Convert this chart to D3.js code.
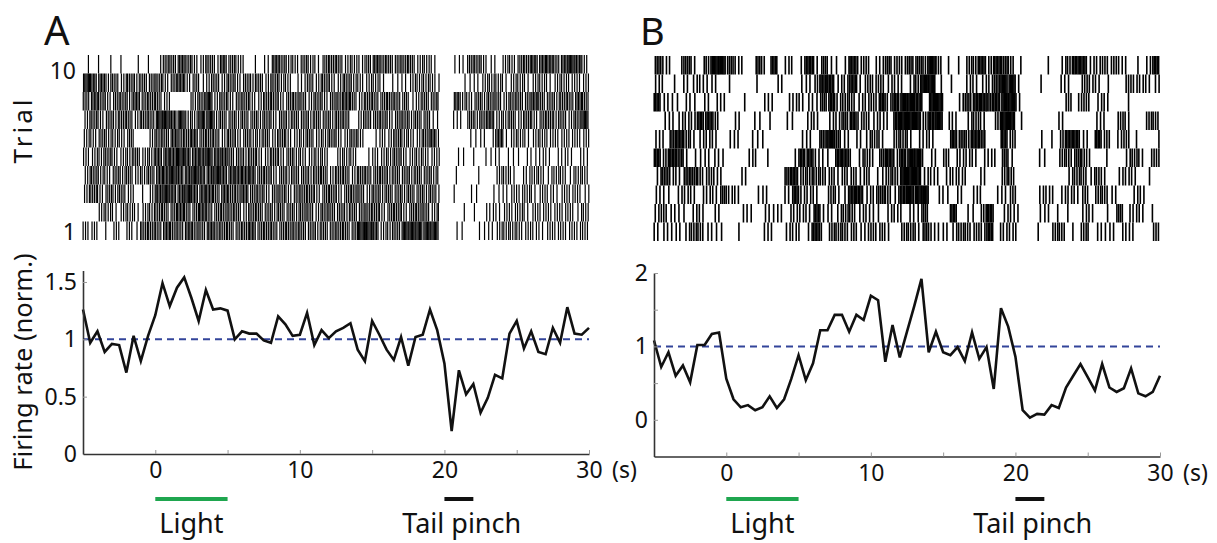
<!DOCTYPE html>
<meta charset="utf-8">
<style>
  body { margin: 0; background: #fff; }
  svg text { font-family: "Noto Sans", sans-serif; fill: #111; }
</style>
<body>
<svg></svg>
<script src="https://cdn.jsdelivr.net/npm/d3@7"></script>
<script>

// ---- data -----------------------------------------------------------

// time axis (s) and sampling of the rate curves
var timeMin = -5, timeMax = 30;
var rateTimes = d3.range(-5, 30.25, 0.5);          // 71 samples, 0.5 s apart

// normalised firing rate, panel A and panel B
var rateA = [1.26,0.97,1.07,0.89,0.96,0.95,0.71,1.03,0.81,1.03,
             1.21,1.49,1.29,1.45,1.54,1.36,1.16,1.43,1.26,1.27,
             1.25,1.00,1.07,1.05,1.05,0.99,0.97,1.20,1.13,1.03,
             1.04,1.23,0.95,1.08,1.01,1.07,1.10,1.14,0.91,0.81,
             1.16,1.04,0.91,0.82,1.02,0.77,1.02,1.04,1.26,1.08,
             0.79,0.20,0.73,0.52,0.61,0.36,0.49,0.69,0.66,1.05,
             1.16,0.92,1.07,0.89,0.87,1.10,0.97,1.28,1.05,1.04,1.10];
var rateB = [1.08,0.72,0.92,0.60,0.74,0.51,1.02,1.02,1.17,1.19,
             0.56,0.28,0.17,0.20,0.13,0.17,0.32,0.16,0.28,0.56,
             0.88,0.54,0.77,1.22,1.22,1.43,1.43,1.20,1.43,1.36,
             1.69,1.63,0.79,1.29,0.85,1.20,1.55,1.92,0.92,1.20,
             0.92,0.88,0.99,0.80,1.19,0.83,0.99,0.42,1.52,1.27,
             0.86,0.13,0.03,0.08,0.07,0.20,0.16,0.44,0.60,0.76,
             0.58,0.40,0.76,0.44,0.38,0.43,0.70,0.36,0.32,0.38,0.60];

// raster: spike counts per 0.5 s bin (70 bins, -5..30 s), trial 1 first
var rasterA = [
  "3301303244"+"4544544544"+"4445444444"+"4434444466"+"5334666663"+"1110112333"+"3322323323",
  "0033233233"+"4445445444"+"4434443443"+"4434443444"+"4344344434"+"0110112232"+"3232332323",
  "3434343013"+"5655655545"+"4454434434"+"4434434443"+"4344344344"+"0101101123"+"2323223232",
  "3433434334"+"5565565565"+"5555443434"+"4344344344"+"4434434433"+"0100100332"+"1233233233",
  "3334333433"+"5556555655"+"4434334343"+"3333033301"+"3334333332"+"0110111211"+"1212212212",
  "3343334003"+"4454454443"+"4343343433"+"3433433430"+"1334333455"+"0001121523"+"3233233233",
  "3434344344"+"6656336634"+"4344343434"+"4344344034"+"4434434413"+"1214345334"+"3434434346",
  "4543443544"+"4300134634"+"3443344344"+"4343445434"+"4444413444"+"1533434434"+"4454434454",
  "6553434344"+"4345341343"+"4343434331"+"2434334333"+"3211233333"+"1011233323"+"3233233233",
  "1011010101"+"1445433425"+"4311025433"+"4324443324"+"5444443320"+"0124432033"+"4455545653"
];
var rasterB = [
  "2212233211"+"0100021022"+"1251333312"+"3310332421"+"2233325122"+"1001033103"+"1212121003",
  "2321122020"+"0021021212"+"2251223322"+"1122121400"+"0501135022"+"1001210102"+"2010412210",
  "2112221224"+"2200120025"+"2220322552"+"2432566602"+"1020210123"+"0002212223"+"0332002200",
  "2422443321"+"0020000045"+"3333313313"+"1133666221"+"2221020033"+"0000000233"+"2310222010",
  "5354211221"+"0002110001"+"5521155123"+"1452566120"+"3122212141"+"0001103343"+"1010023213",
  "2145322220"+"1201110000"+"1214642022"+"3203321220"+"0543540053"+"0001013552"+"0530231001",
  "0122225530"+"0201101011"+"0220224523"+"2215666356"+"1202320366"+"1000002000"+"0210320033",
  "5211210212"+"0010021012"+"2214523322"+"3525665166"+"0024554566"+"2000000313"+"1220010000",
  "2110222120"+"1000100200"+"1235522523"+"2322123661"+"0102222466"+"1001002103"+"2210032222",
  "4211421366"+"4210415021"+"2524112523"+"1243244363"+"1013353543"+"1000102355"+"2233211025"
];
var binWidth = 0.5;

// stretch of each raster with no spikes drawn (stimulus artefact)
var gapA = [19.65, 20.6];
var gapB = [20.45, 21.5];

// axis ticks and labels
var xTicks = [-5, 0, 5, 10, 15, 20, 25, 30];
var xLabels = [0, 10, 20, 30];
var yTicksA = [0, 0.5, 1, 1.5], yLabelsA = [0, 0.5, 1, 1.5], yDomainA = [0, 1.6];
var yTicksB = [0, 0.5, 1, 1.5, 2], yLabelsB = [0, 1, 2], yDomainB = [-0.5, 2];
var trialLabels = [1, 10];
var baselineRate = 1;

// stimuli
var lightOn = [0, 5], pinchOn = [20, 22];
var stimLabels = ["Light", "Tail pinch"];

// ---- setup -------------------------------------------------------------

var width = 1217, height = 543;
var svg = d3.select("svg").attr("width", width).attr("height", height);

// turns a row of bin counts into spike times, spread across each bin
function spikeTimes(row, gap, trialIndex)
{
	var times = [];
	for(var i=0; i<row.length; i++)
	{
		var n = +row[i];
		var phase = (((i*7 + trialIndex*3) % 10) + 0.5) / 10;
		for(var k=0; k<n; k++)
		{
			var t = timeMin + i*binWidth + binWidth*(k + phase)/n;
			if(t < gap[0] || t > gap[1])
				times.push(t);
		}
	}
	return times;
}

function styleAxis(g)
{
	g.attr("font-family", null).attr("font-size", null);
	g.select(".domain").attr("stroke", "#333").attr("stroke-width", 1.6);
	g.selectAll(".tick line").attr("stroke", "#999").attr("stroke-width", 1);
	g.selectAll(".tick text").attr("font-size", 23).attr("fill", "#111");
}

function drawPanel(p)
{
	var g = svg.append("g");
	var x = d3.scaleLinear().domain([timeMin, timeMax]).range([p.left, p.right]);

	// panel letter
	g.append("text").attr("x", p.letterX).attr("y", 45)
	 .attr("font-size", p.letterSize).text(p.letter);

	// raster rows, trial 10 on top
	var yRow = d3.scaleBand().domain(d3.range(10, 0, -1)).range([p.rTop, p.rBot]);
	p.raster.forEach(function(row, i)
	{
		var trial = i + 1;
		g.append("g").selectAll("line")
		 .data(spikeTimes(row, p.gap, i))
		 .join("line")
		 .attr("x1", function(d){ return x(d); })
		 .attr("x2", function(d){ return x(d); })
		 .attr("y1", yRow(trial))
		 .attr("y2", yRow(trial) + yRow.bandwidth())
		 .attr("stroke", "#000")
		 .attr("stroke-width", p.spikeWidth);
	});

	if(p.trialLabels)
	{
		var yLab = d3.scaleLinear().domain([1, 10]).range([240, 79]);
		g.selectAll(".trial").data(trialLabels).join("text")
		 .attr("x", 76).attr("y", function(d){ return yLab(d); })
		 .attr("text-anchor", "end").attr("font-size", 23)
		 .text(function(d){ return d; });
		g.append("text").attr("transform", "translate(32,130) rotate(-90)")
		 .attr("text-anchor", "middle").attr("font-size", 26)
		 .attr("letter-spacing", 3).text("Trial");
		g.append("text").attr("transform", "translate(32,362) rotate(-90)")
		 .attr("text-anchor", "middle").attr("font-size", 25.5).text("Firing rate (norm.)");
	}

	// rate chart
	var y = d3.scaleLinear().domain(p.yDomain).range([p.cBot, p.cTop]);

	g.append("line")
	 .attr("x1", x(timeMin)).attr("x2", x(timeMax))
	 .attr("y1", y(baselineRate)).attr("y2", y(baselineRate))
	 .attr("stroke", "#33449a").attr("stroke-width", 2)
	 .attr("stroke-dasharray", "7,5");

	var line = d3.line()
		.x(function(d, i){ return x(rateTimes[i]); })
		.y(function(d){ return y(d); });

	g.append("path").datum(p.rate)
	 .attr("d", line)
	 .attr("fill", "none")
	 .attr("stroke", "#111")
	 .attr("stroke-width", 2.6);

	var xa = g.append("g").attr("transform", "translate(0," + p.cBot + ")")
		.call(d3.axisBottom(x).tickValues(xTicks).tickSize(-4).tickSizeOuter(0).tickPadding(8)
			.tickFormat(function(d){ return xLabels.indexOf(d) >= 0 ? d : ""; }));
	styleAxis(xa);

	var ya = g.append("g").attr("transform", "translate(" + p.left + ",0)")
		.call(d3.axisLeft(y).tickValues(p.yTicks).tickSize(-4).tickSizeOuter(0).tickPadding(6)
			.tickFormat(function(d){ return p.yLabels.indexOf(d) >= 0 ? d : ""; }));
	styleAxis(ya);
	ya.selectAll(".tick").filter(function(d){ return d === p.yDomain[0]; }).select("line").remove();

	g.append("text").attr("x", x(timeMax) + 23).attr("y", p.cBot + 8).attr("dy", "0.71em")
	 .attr("font-size", 23).text("(s)");

	// stimulus bars
	g.append("rect").attr("x", x(lightOn[0])).attr("width", x(lightOn[1]) - x(lightOn[0]))
	 .attr("y", 497).attr("height", 4).attr("fill", "#1fa64f");
	g.append("rect").attr("x", x(pinchOn[0])).attr("width", x(pinchOn[1]) - x(pinchOn[0]))
	 .attr("y", 497).attr("height", 4).attr("fill", "#111");

	g.append("text").attr("x", x((lightOn[0] + lightOn[1]) / 2)).attr("y", 533)
	 .attr("text-anchor", "middle").attr("font-size", 27).text(stimLabels[0]);
	g.append("text").attr("x", x(21.2)).attr("y", 533)
	 .attr("text-anchor", "middle").attr("font-size", 27).text(stimLabels[1]);
}

drawPanel({
	letter: "A", letterX: 44, letterSize: 40, spikeWidth: 1.2,
	left: 83, right: 589, rTop: 55, rBot: 240, cTop: 270.5, cBot: 454,
	raster: rasterA, gap: gapA, rate: rateA,
	yDomain: yDomainA, yTicks: yTicksA, yLabels: yLabelsA, trialLabels: true
});

drawPanel({
	letter: "B", letterX: 640, letterSize: 38, spikeWidth: 1.6,
	left: 654, right: 1160, rTop: 56, rBot: 241, cTop: 273, cBot: 456.5,
	raster: rasterB, gap: gapB, rate: rateB,
	yDomain: yDomainB, yTicks: yTicksB, yLabels: yLabelsB, trialLabels: false
});

</script>
</body>
</html>
